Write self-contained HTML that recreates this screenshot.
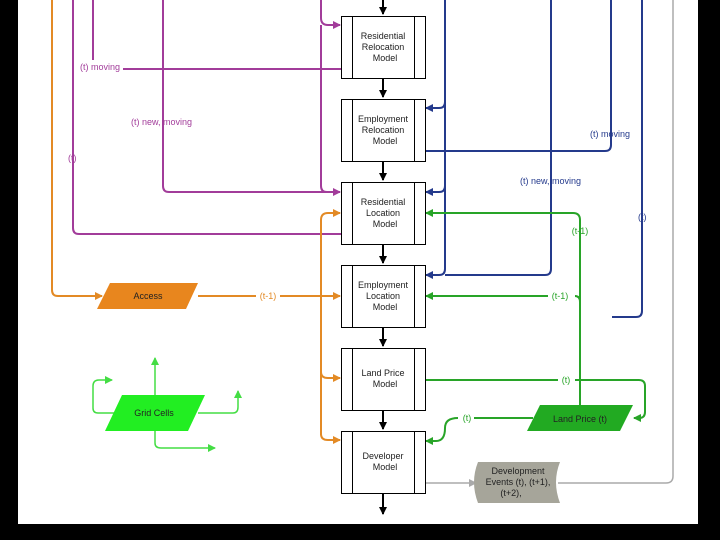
<!DOCTYPE html>
<html><head><style>
html,body{margin:0;padding:0;background:#000;}
svg{display:block}
text{font-family:"Liberation Sans",sans-serif;}
</style></head><body>
<svg width="720" height="540" viewBox="0 0 720 540" xmlns="http://www.w3.org/2000/svg">
<defs>
<marker id="ab" markerWidth="8" markerHeight="8" refX="7" refY="4" orient="auto" markerUnits="userSpaceOnUse"><path d="M0,0 L8,4 L0,8 z" fill="#000"/></marker>
<marker id="ap" markerWidth="8" markerHeight="8" refX="7" refY="4" orient="auto" markerUnits="userSpaceOnUse"><path d="M0,0 L8,4 L0,8 z" fill="#a23c9a"/></marker>
<marker id="ao" markerWidth="8" markerHeight="8" refX="7" refY="4" orient="auto" markerUnits="userSpaceOnUse"><path d="M0,0 L8,4 L0,8 z" fill="#e38a25"/></marker>
<marker id="an" markerWidth="8" markerHeight="8" refX="7" refY="4" orient="auto" markerUnits="userSpaceOnUse"><path d="M0,0 L8,4 L0,8 z" fill="#243a8c"/></marker>
<marker id="ag" markerWidth="8" markerHeight="8" refX="7" refY="4" orient="auto" markerUnits="userSpaceOnUse"><path d="M0,0 L8,4 L0,8 z" fill="#28a428"/></marker>
<marker id="al" markerWidth="8" markerHeight="8" refX="7" refY="4" orient="auto" markerUnits="userSpaceOnUse"><path d="M0,0 L8,4 L0,8 z" fill="#44dd44"/></marker>
<marker id="ay" markerWidth="8" markerHeight="8" refX="7" refY="4" orient="auto" markerUnits="userSpaceOnUse"><path d="M0,0 L8,4 L0,8 z" fill="#aaa"/></marker>
</defs>
<rect x="18" y="0" width="680" height="524" fill="#fff"/>

<!-- purple -->
<g fill="none" stroke="#a23c9a" stroke-width="2">
<path d="M73,0 V228 Q73,234 79,234 H341"/>
<path d="M93,0 V60"/>
<path d="M123,69 H341"/>
<path d="M163,0 V186 Q163,192 169,192 H340" marker-end="url(#ap)"/>
<path d="M321,0 V18 Q321,25 328,25 H340" marker-end="url(#ap)"/>
<path d="M321,25 V186 Q321,192 327,192"/>
</g>
<g font-size="9" fill="#a23c9a">
<text x="80" y="70">(t) moving</text>
<text x="131" y="125">(t) new, moving</text>
<text x="68" y="161">(t)</text>
</g>

<!-- orange -->
<g fill="none" stroke="#e38a25" stroke-width="2">
<path d="M52,0 V290 Q52,296 58,296 H102" marker-end="url(#ao)"/>
<path d="M198,296 H256 M280,296 H340" marker-end="url(#ao)"/>
<path d="M321,435 V220 Q321,213 328,213 H340" marker-end="url(#ao)"/>
<path d="M321,372 Q321,378 328,378 H340" marker-end="url(#ao)"/>
<path d="M321,434 Q321,440 328,440 H340" marker-end="url(#ao)"/>
</g>
<polygon points="97,309 110,283 198,283 186,309" fill="#e8861e"/>
<text x="148" y="299" font-size="9" text-anchor="middle" fill="#222">Access</text>
<text x="268" y="299" font-size="9" text-anchor="middle" fill="#e38a25">(t-1)</text>

<!-- navy -->
<g fill="none" stroke="#243a8c" stroke-width="2">
<path d="M445,0 V269 Q445,275 439,275 H426" marker-end="url(#an)"/>
<path d="M445,102 Q445,108 439,108 H426" marker-end="url(#an)"/>
<path d="M445,186 Q445,192 439,192 H426" marker-end="url(#an)"/>
<path d="M551,0 V269 Q551,275 545,275 H445"/>
<path d="M611,0 V145 Q611,151 605,151 H425"/>
<path d="M642,0 V311 Q642,317 636,317 H612"/>
</g>
<g font-size="9" fill="#243a8c">
<text x="590" y="137">(t) moving</text>
<text x="520" y="184">(t) new, moving</text>
<text x="638" y="220">(t)</text>
</g>

<!-- gray -->
<path d="M673,0 V476 Q673,483 666,483 H558" fill="none" stroke="#aaa" stroke-width="1.5"/>
<path d="M425,483 H476" fill="none" stroke="#aaa" stroke-width="1.5" marker-end="url(#ay)"/>
<path d="M478,462 H560 Q552,482 560,503 H478 Q470,482 478,462 z" fill="#a6a59a"/>
<g font-size="9" fill="#222" text-anchor="middle">
<text x="518" y="474">Development</text>
<text x="518" y="485">Events (t), (t+1),</text>
<text x="511" y="496">(t+2),</text>
</g>

<!-- green -->
<g fill="none" stroke="#28a428" stroke-width="2">
<path d="M580,405 V220 Q580,213 573,213 H426" marker-end="url(#ag)"/>
<path d="M575,296 Q580,296 580,302"/>
<path d="M548,296 H426" marker-end="url(#ag)"/>
<path d="M425,380 H558 M575,380 H639 Q645,380 645,386 V412 Q645,418 639,418 H634" marker-end="url(#ag)"/>
<path d="M533,418 H474 M458,418 Q445,418 445,428 Q445,441 436,441 H426" marker-end="url(#ag)"/>
</g>
<polygon points="527,431 540,405 633,405 620,431" fill="#22aa22"/>
<text x="580" y="422" font-size="9" text-anchor="middle" fill="#222">Land Price (t)</text>
<g font-size="9" fill="#28a428" text-anchor="middle">
<text x="580" y="234">(t-1)</text>
<text x="560" y="299">(t-1)</text>
<text x="566" y="383">(t)</text>
<text x="467" y="421">(t)</text>
</g>

<!-- grid cells -->
<g fill="none" stroke="#44dd44" stroke-width="1.5">
<path d="M155,395 V358" marker-end="url(#al)"/>
<path d="M114,413 H98 Q93,413 93,408 V386 Q93,380 99,380 H112" marker-end="url(#al)"/>
<path d="M198,413 H233 Q238,413 238,407 V391" marker-end="url(#al)"/>
<path d="M155,431 V443 Q155,448 161,448 H215" marker-end="url(#al)"/>
</g>
<polygon points="105,431 122,395 205,395 188,431" fill="#22ee22"/>
<text x="154" y="416" font-size="9" text-anchor="middle" fill="#222">Grid Cells</text>

<!-- model boxes -->
<g fill="#fff" stroke="#000" stroke-width="1">
<rect x="341.5" y="16.5" width="84" height="62"/><line x1="352.5" y1="16.5" x2="352.5" y2="78.5"/><line x1="414.5" y1="16.5" x2="414.5" y2="78.5"/>
<rect x="341.5" y="99.5" width="84" height="62"/><line x1="352.5" y1="99.5" x2="352.5" y2="161.5"/><line x1="414.5" y1="99.5" x2="414.5" y2="161.5"/>
<rect x="341.5" y="182.5" width="84" height="62"/><line x1="352.5" y1="182.5" x2="352.5" y2="244.5"/><line x1="414.5" y1="182.5" x2="414.5" y2="244.5"/>
<rect x="341.5" y="265.5" width="84" height="62"/><line x1="352.5" y1="265.5" x2="352.5" y2="327.5"/><line x1="414.5" y1="265.5" x2="414.5" y2="327.5"/>
<rect x="341.5" y="348.5" width="84" height="62"/><line x1="352.5" y1="348.5" x2="352.5" y2="410.5"/><line x1="414.5" y1="348.5" x2="414.5" y2="410.5"/>
<rect x="341.5" y="431.5" width="84" height="62"/><line x1="352.5" y1="431.5" x2="352.5" y2="493.5"/><line x1="414.5" y1="431.5" x2="414.5" y2="493.5"/>
</g>
<g stroke="#000" stroke-width="2" fill="none">
<path d="M383,0 V14" marker-end="url(#ab)"/>
<path d="M383,78 V97" marker-end="url(#ab)"/>
<path d="M383,161 V180" marker-end="url(#ab)"/>
<path d="M383,244 V263" marker-end="url(#ab)"/>
<path d="M383,327 V346" marker-end="url(#ab)"/>
<path d="M383,410 V429" marker-end="url(#ab)"/>
<path d="M383,493 V514" marker-end="url(#ab)"/>
</g>
<g font-size="9" fill="#222" text-anchor="middle">
<text x="383" y="39">Residential</text><text x="383" y="50">Relocation</text><text x="385" y="61">Model</text>
<text x="383" y="122">Employment</text><text x="383" y="133">Relocation</text><text x="385" y="144">Model</text>
<text x="383" y="205">Residential</text><text x="383" y="216">Location</text><text x="385" y="227">Model</text>
<text x="383" y="288">Employment</text><text x="383" y="299">Location</text><text x="385" y="310">Model</text>
<text x="383" y="376">Land Price</text><text x="385" y="387">Model</text>
<text x="383" y="459">Developer</text><text x="385" y="470">Model</text>
</g>
</svg>
</body></html>
